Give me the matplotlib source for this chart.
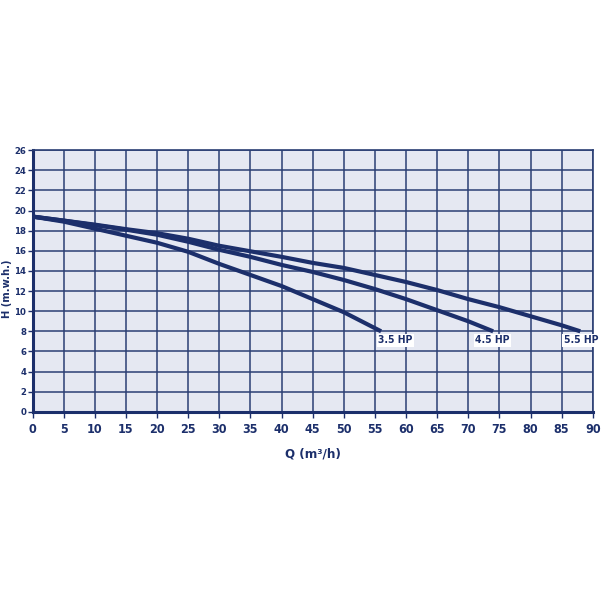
import matplotlib.pyplot as plt
from matplotlib import font_manager

# pump curves
q_35 = [0, 5, 10, 15, 20, 25, 30, 35, 40, 45, 50, 56]
h_35 = [19.4, 18.9, 18.2, 17.5, 16.8, 15.9, 14.7, 13.6, 12.5, 11.2, 9.9, 8.0]

q_45 = [0, 5, 10, 15, 20, 25, 30, 35, 40, 45, 50, 55, 60, 65, 70, 74]
h_45 = [19.4, 19.0, 18.55, 18.1, 17.6, 16.9, 16.1, 15.4, 14.6, 13.9, 13.1, 12.2, 11.2, 10.1, 9.0, 8.0]

q_55 = [0, 5, 10, 15, 20, 25, 30, 35, 40, 45, 50, 55, 60, 65, 70, 75, 80, 85, 88]
h_55 = [19.4, 19.0, 18.6, 18.15, 17.75, 17.2, 16.5, 15.95, 15.4, 14.8, 14.3, 13.6, 12.9, 12.1, 11.2, 10.4, 9.5, 8.6, 8.0]

labels = ['3.5 HP', '4.5 HP', '5.5 HP']
label_dx = [-2, -13, -12]   # label shift in points from curve end
x_ticks = list(range(0, 91, 5))
y_ticks = list(range(0, 27, 2))

navy = '#1c2f6b'
grid_col = '#2b3f74'
bg = '#e5e8f2'

# use a narrow face if one is installed
names = {f.name for f in font_manager.fontManager.ttflist}
fams = [n for n in ['Liberation Sans Narrow', 'DejaVu Sans'] if n in names]
plt.rcParams['font.family'] = fams
plt.rcParams['font.stretch'] = 'condensed'
plt.rcParams['font.weight'] = 'bold'

fig = plt.figure(figsize=(6.03, 6.03), dpi=100)
ax = fig.add_axes([0.054, 0.317, 0.929, 0.434])
ax.set_facecolor(bg)

curves = [(q_35, h_35), (q_45, h_45), (q_55, h_55)]
for (q, h), lab, dx in zip(curves, labels, label_dx):
    ax.plot(q, h, color=navy, lw=3.0, solid_capstyle='butt', zorder=3)
    ax.annotate(lab, (q[-1], h[-1]), xytext=(dx, -3), textcoords='offset points',
                ha='left', va='top', fontsize=7.5, color=navy, fontweight='bold',
                bbox=dict(boxstyle='square,pad=0.15', fc='white', ec='none'), zorder=4)

ax.set_xlim(0, 90)
ax.set_ylim(0, 26)
ax.set_xticks(x_ticks)
ax.set_yticks(y_ticks)
ax.grid(True, color=grid_col, lw=1.1, zorder=1)
ax.set_axisbelow(True)

for s in ['top', 'right']:
    ax.spines[s].set_color(grid_col)
    ax.spines[s].set_linewidth(1.2)
for s in ['left', 'bottom']:
    ax.spines[s].set_color(navy)
    ax.spines[s].set_linewidth(2.2)

ax.tick_params(axis='x', colors=navy, labelsize=9, length=4, width=1, pad=4)
ax.tick_params(axis='y', colors=navy, labelsize=6.8, length=3.5, width=1, pad=1)
for t in ax.get_xticklabels() + ax.get_yticklabels():
    t.set_fontweight('bold')

ax.set_xlabel('Q (m³/h)', color=navy, fontsize=9.5, fontweight='bold', labelpad=8)
ax.set_ylabel('H (m.w.h.)', color=navy, fontsize=8, fontweight='bold')
ax.yaxis.set_label_coords(-0.037, 0.47)

fig.savefig('out.png', dpi=100, facecolor='white')
